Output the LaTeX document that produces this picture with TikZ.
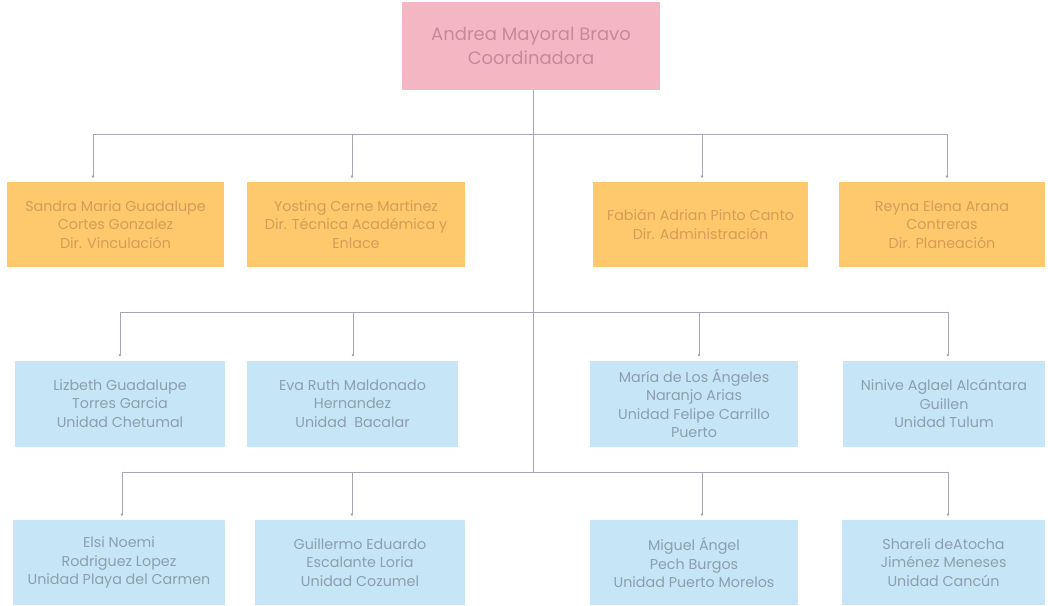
\documentclass[tikz,border=0pt]{standalone}
\usepackage{fontspec}
\setmainfont{Poppins}
\usepackage{xcolor}
\usepackage{tikz}
\usetikzlibrary{positioning,calc,arrows.meta}

\definecolor{rosa}{HTML}{F5B6C4}
\definecolor{rosatxt}{HTML}{C48A9C}
\definecolor{naranja}{HTML}{FDC96C}
\definecolor{naranjatxt}{HTML}{D99A57}
\definecolor{celeste}{HTML}{C6E5F6}
\definecolor{celestetxt}{HTML}{8C9FAF}
\definecolor{linea}{HTML}{A9A5B2}

\begin{document}
\begin{tikzpicture}[
	x=1pt, y=-1pt,
	% Caja base
	caja/.style={
		rectangle, inner sep=0pt, align=center,
		font=\fontsize{14.3}{18.5}\selectfont
	},
	% Coordinadora (rosa)
	jefa/.style={
		caja, fill=rosa, text=rosatxt,
		minimum width=258pt, minimum height=88pt,
		font=\fontsize{18}{24}\selectfont
	},
	% Direcciones (naranja)
	dir/.style={
		caja, fill=naranja, text=naranjatxt, minimum height=85pt
	},
	% Unidades (celeste)
	unidad/.style={
		caja, fill=celeste, text=celestetxt, minimum height=86pt
	},
	% Lineas de union
	enlace/.style={draw=linea, line width=0.7pt},
	bajada/.style={enlace, -{Circle[length=2.6pt]}, shorten >=4pt}
	]
	
	\useasboundingbox (0,0) rectangle (1048,605);
	
	% --- Coordinadora ---
	\node[jefa] (top) at (531,46) {Andrea Mayoral Bravo\\Coordinadora};
	
	% --- Fila 1: Direcciones ---
	\node[dir, minimum width=217pt] (o1) at (115.5,224.5)
		{Sandra Maria Guadalupe\\Cortes Gonzalez\\Dir. Vinculación};
	\node[dir, minimum width=218pt] (o2) at (356,224.5)
		{Yosting Cerne Martinez\\Dir. Técnica Académica y\\Enlace};
	\node[dir, minimum width=215pt] (o3) at (700.5,224.5)
		{Fabián Adrian Pinto Canto\\Dir. Administración};
	\node[dir, minimum width=206pt] (o4) at (942,224.5)
		{Reyna Elena Arana\\Contreras\\Dir. Planeación};
	
	% --- Fila 2: Unidades ---
	\node[unidad, minimum width=210pt] (b1) at (120,403.5)
		{Lizbeth Guadalupe\\Torres Garcia\\Unidad Chetumal};
	\node[unidad, minimum width=211pt] (b2) at (352.5,403.5)
		{Eva Ruth Maldonado\\Hernandez\\Unidad~ Bacalar};
	\node[unidad, minimum width=208pt] (b3) at (694,403.5)
		{María de Los Ángeles\\Naranjo Arias\\Unidad Felipe Carrillo\\Puerto};
	\node[unidad, minimum width=202pt] (b4) at (944,403.5)
		{Ninive Aglael Alcántara\\Guillen\\Unidad Tulum};
	
	% --- Fila 3: Unidades ---
	\node[unidad, minimum width=212pt, minimum height=85pt] (c1) at (119,562.5)
		{Elsi Noemi\\Rodriguez Lopez\\Unidad Playa del Carmen};
	\node[unidad, minimum width=210pt, minimum height=85pt] (c2) at (360,562.5)
		{Guillermo Eduardo\\Escalante Loria\\Unidad Cozumel};
	\node[unidad, minimum width=208pt, minimum height=85pt] (c3) at (694,562.5)
		{Miguel Ángel\\Pech Burgos\\Unidad Puerto Morelos};
	\node[unidad, minimum width=203pt, minimum height=85pt] (c4) at (943.5,562.5)
		{Shareli deAtocha\\Jiménez Meneses\\Unidad Cancún};
	
	% --- Tronco y barras ---
	\coordinate (t1) at (533,134);
	\coordinate (t2) at (533,312);
	\coordinate (t3) at (533,472);
	\draw[enlace] (top.south -| t1) -- (t3);
	
	% puntos de bajada en cada barra
	\foreach \fila/\yb/\xa/\xb/\xc/\xd in {o/134/93/352/702/947, b/312/120/353/699/948, c/472/122/352/702/948} {
		\draw[enlace] (\xa,\yb) -- (\xd,\yb);
		\foreach \xx [count=\i] in {\xa,\xb,\xc,\xd} {
			\coordinate (\fila j\i) at (\xx,\yb);
			\draw[bajada] (\fila j\i) -- (\fila j\i |- \fila\i.north);
		}
	}
	
\end{tikzpicture}
\end{document}
